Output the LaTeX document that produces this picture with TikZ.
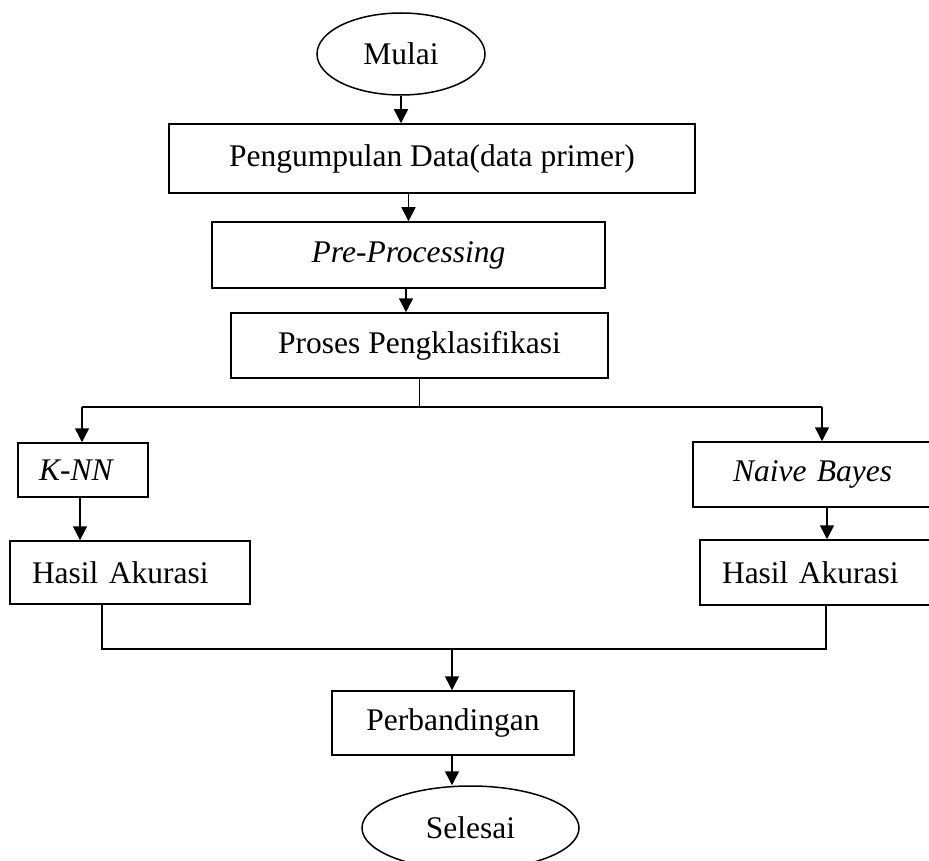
\documentclass[tikz,border=0pt]{standalone}
\usepackage{fontspec}
\setmainfont{Liberation Serif}
\usetikzlibrary{arrows.meta,shapes.geometric}
\begin{document}
\begin{tikzpicture}[x=1pt,y=-1pt,
  every node/.style={font=\fontsize{31.5}{36}\selectfont},
  box/.style={draw, line width=1.5pt, rectangle, inner sep=0pt, align=center},
  lbox/.style={draw, line width=1.5pt, rectangle, inner ysep=0pt, align=left},
  oval/.style={draw, line width=1.5pt, ellipse, inner sep=0pt},
  conn/.style={line width=1.5pt},
  arr/.style={line width=1.5pt, -{Triangle[length=14pt,width=14pt]}}]
\useasboundingbox (0,0) rectangle (929,861);
\clip (0,0) rectangle (929,861);
% nodes
\node[oval, minimum width=168pt, minimum height=82pt] (mulai) at (401,54) {Mulai};
\node[box, minimum width=526pt, minimum height=69pt] (b1) at (432,158.5) {Pengumpulan Data(data primer)};
\node[box, minimum width=393pt, minimum height=66pt] (b2) at (408.5,255) {\textit{Pre-Processing}};
\node[box, minimum width=377pt, minimum height=65pt] (b3) at (419.5,345.5) {Proses Pengklasifikasi};
\node[lbox, inner xsep=21pt, text width=88pt, minimum height=54pt] (knn) at (83,470) {\textit{K-NN}};
\node[lbox, inner xsep=22pt, text width=196pt, minimum height=63pt] (hl) at (130,572.5) {Hasil Akurasi};
\node[lbox, inner xsep=40pt, text width=162pt, minimum height=65pt] (nb) at (814,474.5) {\textit{Naive Bayes}};
\node[lbox, inner xsep=22pt, text width=191pt, minimum height=65pt] (hr) at (817.5,572.5) {Hasil Akurasi};
\node[box, minimum width=242pt, minimum height=64pt] (perb) at (453,723) {Perbandingan};
\node[oval, minimum width=217pt, minimum height=84pt] (sel) at (470.5,828) {Selesai\hspace{22pt}};
% junction coordinates
\coordinate (sL) at (82,407);
\coordinate (sR) at (822,407);
\coordinate (jL) at (102,649);
\coordinate (jR) at (826,649);
\coordinate (jC) at (452,649);
% connectors
\draw[arr] (mulai.south) -- (mulai.south |- b1.north);
\draw[arr] (b1.south -| b2.north) -- (b2.north);
\draw[arr] ([xshift=-2.5pt]b2.south) -- ([xshift=-2.5pt]b2.south |- b3.north);
\draw[conn] (b3.south) -- (b3.south |- sL);
\draw[conn] (sL) -- (sR);
\draw[arr] (sL) -- (sL |- knn.north);
\draw[arr] (sR) -- (sR |- nb.north);
\draw[arr] ([xshift=-3pt]knn.south) -- ([xshift=-3pt]knn.south |- hl.north);
\draw[arr] (nb.south -| 827,0) -- (hr.north -| 827,0);
\draw[conn] (hl.south -| jL) -- (jL) -- (jR) -- (hr.south -| jR);
\draw[arr] (jC) -- (jC |- perb.north);
\draw[arr] (perb.south -| jC) -- (jC |- sel.north);
\end{tikzpicture}
\end{document}
